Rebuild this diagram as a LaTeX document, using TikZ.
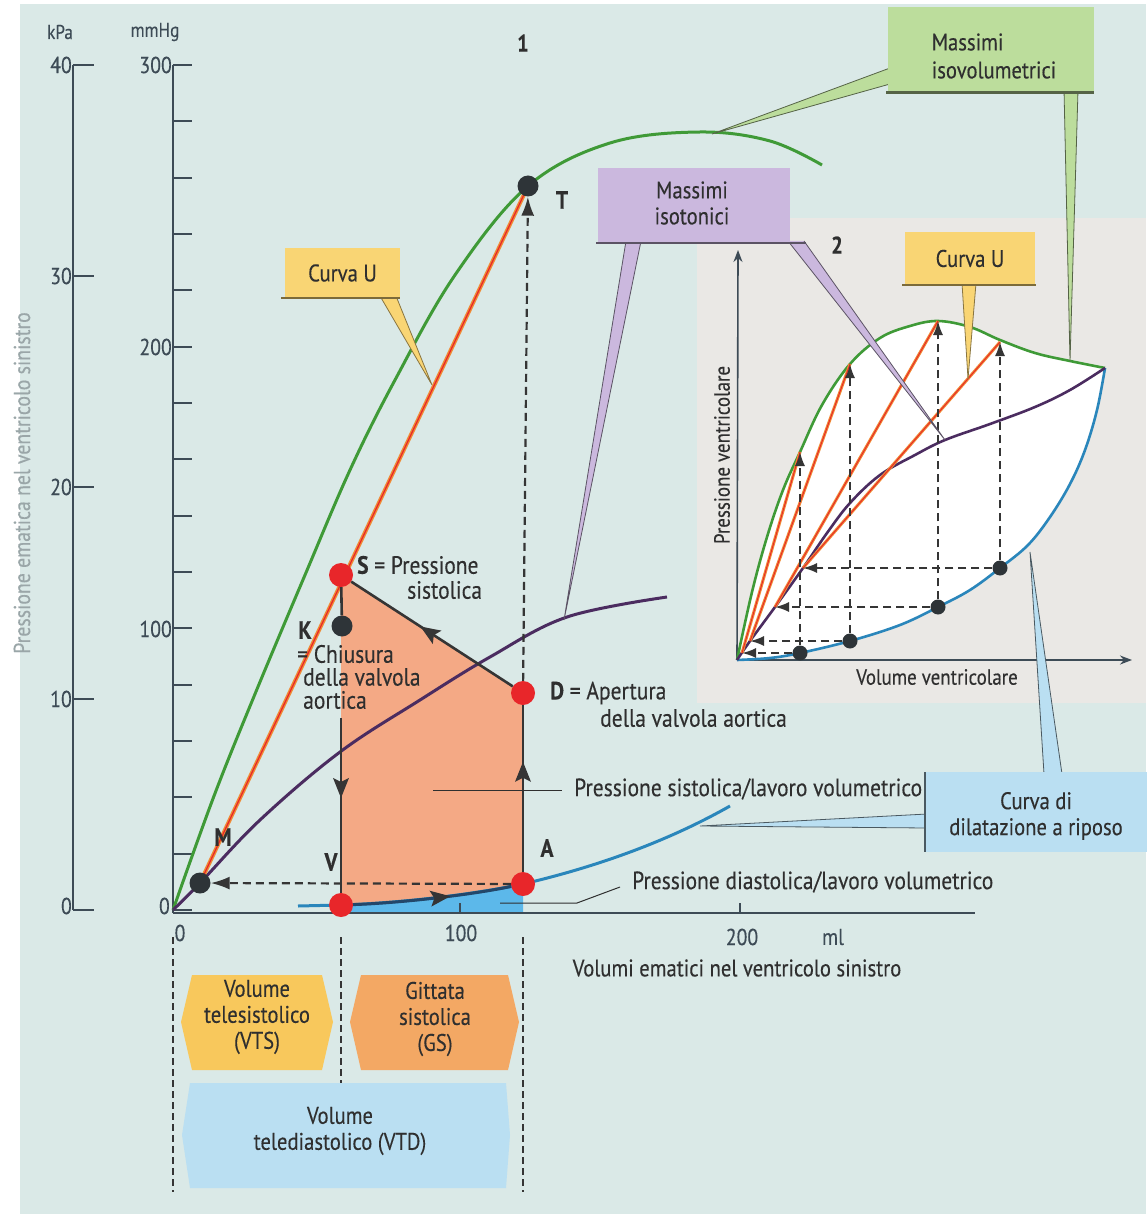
\documentclass[tikz,border=0pt]{standalone}
\usepackage{fontspec}
\setmainfont[FakeStretch=0.86,FakeBold=0.25]{PT Sans}
\usetikzlibrary{arrows.meta,decorations.markings,calc}
\definecolor{bgmain}{HTML}{DAE9E7}
\definecolor{bginset}{HTML}{EAE8E5}
\definecolor{axis}{HTML}{3D4B56}
\definecolor{cgreen}{HTML}{3F9A37}
\definecolor{corange}{HTML}{F08A34}
\definecolor{cred}{HTML}{E8262A}
\definecolor{cpurple}{HTML}{4B2C60}
\definecolor{cblue}{HTML}{2A86BB}
\definecolor{cnavy}{HTML}{23476A}
\definecolor{fillorange}{HTML}{F4A985}
\definecolor{fillblue}{HTML}{5CB8EA}
\definecolor{boxyellow}{HTML}{F9D574}
\definecolor{boxgreen}{HTML}{BCDD9C}
\definecolor{boxpurple}{HTML}{CBB8DE}
\definecolor{boxblue}{HTML}{BADFF2}
\definecolor{boxorange}{HTML}{F3A864}
\definecolor{boxgold}{HTML}{F8C85C}
\definecolor{txt}{HTML}{2F2F2F}
\definecolor{cyc}{HTML}{353535}
\definecolor{dotc}{HTML}{2E3438}
\definecolor{sidelab}{HTML}{9AA6A8}
\begin{document}
\begin{tikzpicture}[x=1pt,y=-1pt,
  lab/.style={font=\fontsize{25}{28}\selectfont, text=txt, inner sep=0pt},
  blab/.style={font=\fontsize{25}{28}\selectfont\bfseries, text=txt, inner sep=0pt},
  num/.style={font=\fontsize{23}{25}\selectfont, text=axis, inner sep=1pt},
  boxtext/.style={font=\fontsize{24}{26}\selectfont, text=txt, align=center, inner sep=0pt},
  axisline/.style={draw=axis, line width=2pt},
  cycline/.style={draw=cyc, line width=2.6pt},
  dsh/.style={draw=cyc, line width=2.2pt, dash pattern=on 8pt off 5pt},
  tip/.style={-{Latex[length=19pt,width=13pt]}},
  itip/.style={-{Latex[length=14pt,width=10pt]}},
  midarrow/.style={postaction={decorate}, decoration={markings, mark=at position #1 with {\fill[cyc] (10pt,0pt) -- (-10pt,8pt) -- (-6pt,0pt) -- (-10pt,-8pt) -- cycle;}}},
  reddot/.style={circle, fill=cred, minimum size=24pt, inner sep=0pt},
  darkdot/.style={circle, fill=dotc, minimum size=21pt, inner sep=0pt},
  smalldot/.style={circle, fill=dotc, minimum size=15pt, inner sep=0pt},
  leader/.style={draw=txt, line width=1pt},
  wedge/.style={line width=0.8pt},
]
\useasboundingbox (0,0) rectangle (1146,1214);
\fill[white] (0,0) rectangle (1146,1214);
\fill[bgmain] (20,4) rectangle (1146,1214);
\fill[bginset] (697,218) rectangle (1146,703);

% ---------- key points of chart 1
\coordinate (cO) at (173,910);
\coordinate (cM) at (200,883);
\coordinate (cV) at (341,905);
\coordinate (cA) at (523,884);
\coordinate (cD) at (523,693);
\coordinate (cS) at (341,575);
\coordinate (cK) at (342,626);
\coordinate (cT) at (528,186);

% ---------- fills
\fill[fillblue] (cV) .. controls (400,903) and (470,895) .. (cA) -- (523,913) -- (341,913) -- cycle;
\fill[fillorange] (cV) -- (cS) -- (cD) -- (cA) .. controls (470,895) and (400,903) .. (cV) -- cycle;

% ---------- axes of chart 1
\draw[axisline] (73,65) -- (73,910);
\foreach \yy in {65,276,487,699,910} \draw[axisline] (73,\yy) -- (94,\yy);
\node[num, anchor=east] (k40) at (73,65) {40};
\node[num, anchor=east] (k30) at (73,276) {30};
\node[num, anchor=east] (k20) at (73,487) {20};
\node[num, anchor=east] (k10) at (73,699) {10};
\node[num, anchor=east] (k0) at (73,906) {0};
\node[num, font=\fontsize{20}{22}\selectfont] (kpa) at (60,32) {kPa};
\draw[axisline] (173,65) -- (173,913);
\foreach \i in {0,...,15} \draw[axisline] (173,{910-\i*56.33}) -- (192,{910-\i*56.33});
\node[num, anchor=east] (m300) at (173,65) {300};
\node[num, anchor=east] (m200) at (173,347) {200};
\node[num, anchor=east] (m100) at (173,629) {100};
\node[num, anchor=east] (m0) at (171,906) {0};
\node[num, font=\fontsize{20}{22}\selectfont] (mmhg) at (155,32) {mmHg};
\draw[axisline] (173,913) -- (975,913);
\draw[axisline] (460,913) -- (460,903);
\draw[axisline] (740,913) -- (740,903);
\node[num] (x0) at (180,933) {0};
\node[num] (x100) at (461,933) {100};
\node[num] (x200) at (742,937) {200};
\node[num] (xml) at (833,937) {ml};
\node[lab, font=\fontsize{24}{26}\selectfont] (xlab) at (737,968) {Volumi ematici nel ventricolo sinistro};
\node[rotate=90, font=\fontsize{23}{25}\selectfont, text=sidelab] (ylab) at (22,483) {Pressione ematica nel ventricolo sinistro};

% ---------- inset 2
\fill[white] plot[smooth, tension=0.6] coordinates {(737,660) (752,592) (767,537) (783,490) (800,452) (822,405) (850,364) (880,338) (910,326) (938,321) (970,327) (1000,340) (1035,353) (1070,361) (1105,368)}
  -- plot[smooth, tension=0.6] coordinates {(1105,368) (1097,410) (1085,450) (1070,484) (1050,517) (1028,545) (1000,568) (970,590) (938,607) (900,625) (850,641) (800,653) (770,658) (737,660)} -- cycle;
\draw[draw=axis, line width=1.6pt, -{Stealth[length=12pt,width=9pt]}] (737,660) -- (738,250);
\draw[draw=axis, line width=1.6pt, -{Stealth[length=12pt,width=9pt]}] (737,660) -- (1132,660);
\node[lab, font=\fontsize{22}{24}\selectfont, rotate=90] (iylab) at (722,455) {Pressione ventricolare};
\node[lab, font=\fontsize{22}{24}\selectfont] (ixlab) at (937,677) {Volume ventricolare};
\node[blab, font=\fontsize{24}{26}\selectfont\bfseries] (n2) at (837,245) {2};
\draw[cgreen, line width=2.6pt] plot[smooth, tension=0.6] coordinates {(737,660) (752,592) (767,537) (783,490) (800,452) (822,405) (850,364) (880,338) (910,326) (938,321) (970,327) (1000,340) (1035,353) (1070,361) (1105,368)};
\draw[cblue, line width=2.6pt] plot[smooth, tension=0.6] coordinates {(737,660) (770,658) (800,653) (850,641) (900,625) (938,607) (970,590) (1000,568) (1028,545) (1050,517) (1070,484) (1085,450) (1097,410) (1105,368)};
\draw[cpurple, line width=2.6pt] plot[smooth, tension=0.6] coordinates {(737,660) (750,641) (775,607) (803,568) (827,533) (850,503) (880,475) (915,455) (945,440) (990,424) (1035,407) (1070,390) (1105,368)};
\coordinate (g1) at (800,452); \coordinate (h1) at (742,653);
\coordinate (g2) at (850,364); \coordinate (h2) at (750,641);
\coordinate (g3) at (938,321); \coordinate (h3) at (775,607);
\coordinate (g4) at (1000,342); \coordinate (h4) at (803,568);
\foreach \a/\b in {h1/g1,h2/g2,h3/g3,h4/g4} {
  \draw[corange, line width=3pt] (\a) -- (\b);
  \draw[cred, line width=0.9pt] (\a) -- (\b);
}
\node[smalldot] (i1) at (800,653) {};
\node[smalldot] (i2) at (850,641) {};
\node[smalldot] (i3) at (938,607) {};
\node[smalldot] (i4) at (1000,568) {};
\draw[dsh, line width=1.8pt, itip] (i1) -- (g1);
\draw[dsh, line width=1.8pt, itip] (i2) -- (g2);
\draw[dsh, line width=1.8pt, itip] (i3) -- (g3);
\draw[dsh, line width=1.8pt, itip] (i4) -- (g4);
\draw[dsh, line width=1.8pt, itip] (i1) -- (h1);
\draw[dsh, line width=1.8pt, itip] (i2) -- (h2);
\draw[dsh, line width=1.8pt, itip] (i3) -- (h3);
\draw[dsh, line width=1.8pt, itip] (i4) -- (h4);

% ---------- curves of chart 1
\draw[cgreen, line width=3pt] plot[smooth, tension=0.6] coordinates {(173,910) (214,796) (255,694) (305,575) (350,470) (395,380) (455,275) (528,186) (610,143) (700,132) (770,141) (822,165)};
\draw[cpurple, line width=3pt] plot[smooth, tension=0.6] coordinates {(173,910) (200,883) (260,820) (340,752) (420,700) (490,657) (567,617) (667,597)};
\draw[corange, line width=4pt] (cM) -- (cT);
\draw[cred, line width=1.2pt] (cM) -- (cT);
\draw[cblue, line width=3pt] (298,906) -- (cV) .. controls (400,903) and (470,895) .. (cA) .. controls (600,866) and (670,840) .. (730,806);

% ---------- dots
\node[darkdot] (T) at (cT) {};
\node[darkdot] (M) at (cM) {};
\node[darkdot] (K) at (cK) {};
\node[reddot] (S) at (cS) {};
\node[reddot] (D) at (cD) {};
\node[reddot] (A) at (cA) {};
\node[reddot] (V) at (cV) {};
\coordinate (Kgap) at (341,718);

% ---------- cycle and dashed connectors
\draw[cycline, midarrow=0.52] (D) -- (S);
\draw[cycline] (S) -- (K);
\draw[cycline, midarrow=0.4] (Kgap) -- (V);
\draw[cycline, midarrow=0.6] (A) -- (D);
\draw[cnavy, line width=3pt, midarrow=0.55] (V) .. controls (400,903) and (470,895) .. (A);
\draw[dsh, tip] (D) -- (T);
\draw[dsh, tip] (A) -- (M);

% ---------- leaders
\coordinate (ls1) at (433,790); \coordinate (ls2) at (562,790);
\draw[leader] (ls1) -- (ls2);
\coordinate (ld1) at (500,903); \coordinate (ld2) at (577,903); \coordinate (ld3) at (620,887);
\draw[leader] (ld1) -- (ld2) -- (ld3);

% ---------- callouts
% Curva U (main)
\coordinate (cu1tip) at (432,385);
\filldraw[wedge, fill=boxyellow, draw=boxyellow!55!black] (380,296) -- (cu1tip) -- (396,296);
\node[fill=boxyellow, minimum width=115pt, minimum height=50pt, inner sep=0pt] (cu1) at (342.5,273) {};
\node[boxtext] (cu1t) at (cu1) {Curva U};
\draw[boxyellow!50!black, line width=2.5pt] (281,298) -- (400,298);
% Massimi isovolumetrici
\coordinate (iv1tip) at (712,134);
\coordinate (iv2tip) at (1070,361);
\filldraw[wedge, fill=boxgreen, draw=boxgreen!45!black] (890,68) -- (iv1tip) -- (890,84);
\filldraw[wedge, fill=boxgreen, draw=boxgreen!45!black] (1064,90) -- (iv2tip) -- (1078,90);
\node[fill=boxgreen, minimum width=206pt, minimum height=85pt, inner sep=0pt] (iv) at (991,50) {};
\node[boxtext, align=left, font=\fontsize{24}{28}\selectfont] (ivt) at (994,56) {Massimi\\isovolumetrici};
\draw[boxgreen!45!black, line width=2.5pt] (886,92.5) -- (1094,92.5);
% Massimi isotonici
\coordinate (it1tip) at (564,620);
\coordinate (it2tip) at (945,440);
\filldraw[wedge, fill=boxpurple, draw=boxpurple!45!black] (626,241) -- (it1tip) -- (641,241);
\filldraw[wedge, fill=boxpurple, draw=boxpurple!45!black] (788,241) -- (it2tip) -- (804,241);
\node[fill=boxpurple, minimum width=192pt, minimum height=75pt, inner sep=0pt] (it) at (694,205.5) {};
\node[boxtext] (itt) at (692,203) {Massimi\\isotonici};
\draw[boxpurple!45!black, line width=2.5pt] (596,243) -- (806,243);
% Curva U (inset)
\coordinate (cu2tip) at (968,379);
\filldraw[wedge, fill=boxyellow, draw=boxyellow!55!black] (962,283) -- (cu2tip) -- (976,283);
\node[fill=boxyellow, minimum width=130pt, minimum height=53pt, inner sep=0pt] (cu2) at (970,258.5) {};
\node[boxtext] (cu2t) at (cu2) {Curva U};
\draw[boxyellow!50!black, line width=2.5pt] (902,285) -- (1036,285);
% Curva di dilatazione a riposo
\coordinate (cd1tip) at (700,826);
\coordinate (cd2tip) at (1030,552);
\filldraw[wedge, fill=boxblue, draw=boxblue!40!black] (927,814) -- (cd1tip) -- (927,828);
\filldraw[wedge, fill=boxblue, draw=boxblue!40!black] (1044,774) -- (cd2tip) -- (1062,774);
\node[fill=boxblue, minimum width=222pt, minimum height=80pt, inner sep=0pt] (cd) at (1036,812) {};
\node[boxtext] (cdt) at (1036,816) {Curva di\\dilatazione a riposo};
\draw[boxblue!40!black, line width=1.5pt] (925,772) -- (925,852);

% ---------- labels chart 1
\node[blab, font=\fontsize{24}{26}\selectfont\bfseries] (n1) at (523,43) {1};
\node[blab] (tT) at (562,200) {T};
\node[lab, anchor=west] (tS1) at (357,565) {\textbf{S} = Pressione};
\node[lab, anchor=west] (tS2) at (407,590) {sistolica};
\node[blab] (tK) at (305,630) {K};
\node[lab, anchor=west] (tK1) at (297,654) {= Chiusura};
\node[lab, anchor=west] (tK2) at (303,677) {della valvola};
\node[lab, anchor=west] (tK3) at (303,700) {aortica};
\node[lab, anchor=west] (tD1) at (550,693) {\textbf{D} = Apertura};
\node[lab, anchor=west] (tD2) at (600,718) {della valvola aortica};
\node[blab] (tM) at (223,837) {M};
\node[blab] (tV) at (331,862) {V};
\node[blab] (tA) at (547,848) {A};
\node[lab, anchor=west] (tPs) at (574,789) {Pressione sistolica/lavoro volumetrico};
\node[lab, anchor=west] (tPd) at (632,882) {Pressione diastolica/lavoro volumetrico};

% ---------- bottom volume boxes
\draw[dsh, line width=2.6pt, dash pattern=on 7pt off 4pt] (173,937) -- (173,1192);
\draw[dsh, line width=2.6pt, dash pattern=on 7pt off 4pt] (341,937) -- (341,1105);
\draw[dsh, line width=2.6pt, dash pattern=on 7pt off 4pt] (523,937) -- (523,1192);
\fill[boxgold] (192,975) -- (322,975) -- (333,1022) -- (322,1070) -- (192,1070) -- (181,1022) -- cycle;
\node[boxtext] (vts) at (257,1017) {Volume\\telesistolico\\(VTS)};
\fill[boxorange] (361,975) -- (508,975) -- (519,1022) -- (508,1070) -- (361,1070) -- (350,1022) -- cycle;
\node[boxtext] (gs) at (435,1019) {Gittata\\sistolica\\(GS)};
\fill[boxblue] (190,1083) -- (506,1083) -- (510,1135) -- (506,1188) -- (190,1188) -- (182,1135) -- cycle;
\node[boxtext] (vtd) at (340,1131) {Volume\\telediastolico (VTD)};
\end{tikzpicture}
\end{document}
